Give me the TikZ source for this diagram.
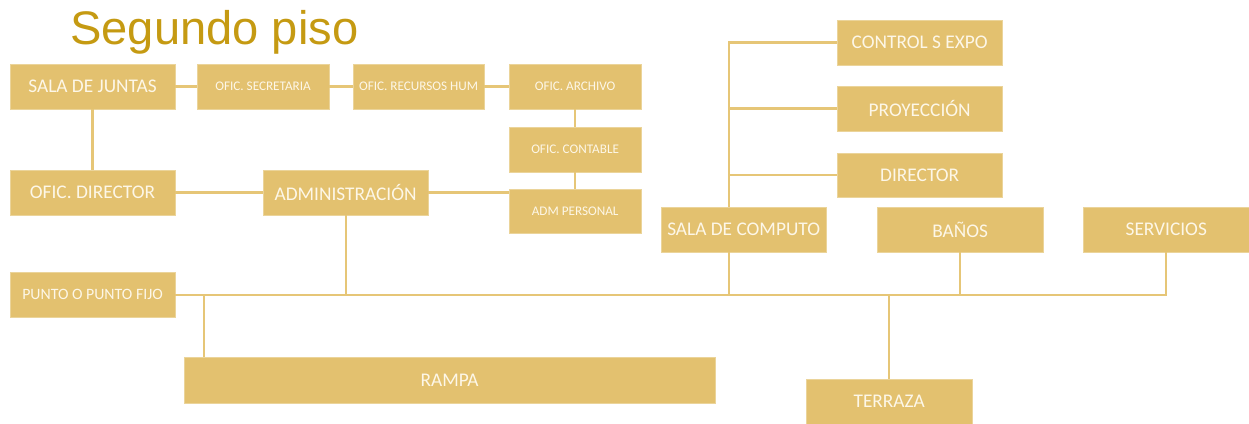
\documentclass[tikz,border=0pt]{standalone}
\usepackage{fontspec}
\setmainfont{Carlito}
\newfontfamily\titlefont{Liberation Sans}
\definecolor{boxfill}{HTML}{E3C16F}
\definecolor{linec}{HTML}{E6C677}
\definecolor{boxtext}{HTML}{FDF7E8}
\definecolor{titlec}{HTML}{C59A12}
\tikzset{
  boxst/.style={fill=boxfill, draw=boxfill!70!white, line width=0.3pt, inner sep=0pt, text=boxtext, align=center},
  big/.style={font=\fontsize{11}{13}\selectfont},
  mid/.style={font=\fontsize{9}{11}\selectfont},
  small/.style={font=\fontsize{7.5}{9}\selectfont},
  conn/.style={draw=linec, line width=1.2pt}
}
\newcommand{\pbox}[7]{%
  \node[boxst,#7, minimum width={(#4-#2)*0.02cm}, minimum height={(#5-#3)*0.02cm}]
    (#1) at ({(#2+#4)/2*0.02},{-(#3+#5)/2*0.02}) {#6};}
\begin{document}
\begin{tikzpicture}
\useasboundingbox (0,0) rectangle (24.98,-8.46);
\node[anchor=base west, inner sep=0pt, text=titlec, font=\titlefont\fontsize{26.8}{30}\selectfont] (title) at (1.4,-0.9) {Segundo piso};
\coordinate (bt) at (14.58,-0.84);
\coordinate (rx) at (4.08,-5.88);
% boxes
\pbox{sj}{10}{64}{175}{109}{SALA DE JUNTAS}{big}
\pbox{sec}{197}{64}{329}{109}{OFIC. SECRETARIA}{small}
\pbox{rh}{353}{64}{484}{109}{OFIC. RECURSOS HUM}{small}
\pbox{arch}{509}{64}{641}{109}{OFIC. ARCHIVO}{small}
\pbox{cont}{509}{127}{641}{172}{OFIC. CONTABLE}{small}
\pbox{admp}{509}{189}{641}{233}{ADM PERSONAL}{small}
\pbox{od}{10}{170}{175}{215}{OFIC. DIRECTOR}{big}
\pbox{adm}{263}{170}{428}{215}{ADMINISTRACIÓN}{big}
\pbox{ce}{837}{20}{1002}{65}{CONTROL S EXPO}{big}
\pbox{pr}{837}{86}{1002}{131}{PROYECCIÓN}{big}
\pbox{dir}{837}{153}{1002}{197}{DIRECTOR}{big}
\pbox{scomp}{661}{207}{826}{252}{SALA DE COMPUTO}{big}
\pbox{ban}{877}{207}{1043}{252}{BAÑOS}{big}
\pbox{serv}{1083}{207}{1249}{252}{SERVICIOS}{big}
\pbox{pf}{10}{272}{175}{317}{PUNTO O PUNTO FIJO}{mid}
\pbox{ramp}{184}{357}{715}{403}{RAMPA}{big}
\pbox{ter}{806}{379}{972}{424}{TERRAZA}{big}
% connectors
\path[conn] (sj.east) -- (sec.west);
\path[conn] (sec.east) -- (rh.west);
\path[conn] (rh.east) -- (arch.west);
\path[conn] (arch.south) -- (cont.north);
\path[conn] (cont.south) -- (admp.north);
\path[conn] (sj.south) -- (od.north);
\path[conn] (od.east) -- (adm.west);
\path[conn] (adm.east) -- (adm.east -| admp.west);
\path[conn] (ce.west) -- (ce.west -| bt) -- (bt |- scomp.north);
\path[conn] (pr.west) -- (pr.west -| bt);
\path[conn] (dir.west) -- (dir.west -| bt);
\path[conn] (pf.east) -| (serv.south);
\path[conn] (bt |- scomp.south) -- (bt |- pf.east);
\path[conn] (ban.south) -- (ban.south |- pf.east);
\path[conn] (adm.south) -- (adm.south |- pf.east);
\path[conn] (ter.north) -- (ter.north |- pf.east);
\path[conn] (rx) -- (rx |- ramp.north);
\end{tikzpicture}
\end{document}
